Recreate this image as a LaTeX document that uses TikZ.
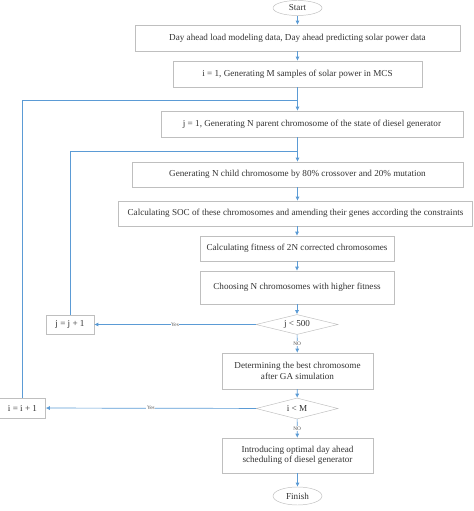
\documentclass[tikz,border=0pt]{standalone}
\usepackage{fontspec}
\setmainfont{Liberation Serif}
\usetikzlibrary{shapes.geometric,arrows.meta}
\definecolor{flowblue}{RGB}{91,155,213}
\tikzset{
  box/.style={draw=black!25,fill=white,text=black!80,font=\fontsize{7.8}{9}\selectfont,align=center,inner sep=1pt},
  test/.style={diamond,draw=black!25,fill=white,text=black!80,font=\fontsize{7.8}{9}\selectfont,aspect=4,inner sep=0pt},
  term/.style={ellipse,draw=black!25,fill=white,text=black!80,font=\fontsize{7.8}{9}\selectfont,inner sep=0pt},
  flow/.style={draw=flowblue,line width=0.6pt,-{Latex[length=3.5pt,width=3.5pt]}},
  tag/.style={fill=white,text=black!70,font=\fontsize{4.5}{5}\selectfont,inner sep=0.5pt}
}
\begin{document}
\begin{tikzpicture}[x=0.03cm,y=-0.03cm]
\useasboundingbox (0,0) rectangle (473,511);
% main column
\node[term,minimum width=1.47cm,minimum height=0.45cm] (start) at(297.5,8) {Start};
\node[box,minimum width=9.75cm,minimum height=0.78cm] (load) at(297.5,38) {Day ahead load modeling data, Day ahead predicting solar power data};
\node[box,minimum width=7.47cm,minimum height=0.78cm] (mcs) at(297.5,74) {i = 1, Generating M samples of solar power in MCS};
\node[box,minimum width=9.06cm,minimum height=0.78cm] (parent) at(312,124) {j = 1, Generating N parent chromosome of the state of diesel generator};
\node[box,minimum width=9.93cm,minimum height=0.75cm] (child) at(297.5,174.5) {Generating N child chromosome by 80\% crossover and 20\% mutation};
\node[box,minimum width=10.62cm,minimum height=0.75cm] (soc) at(295.5,213.5) {Calculating SOC of these chromosomes and amending their genes according the constraints};
\node[box,minimum width=5.82cm,minimum height=0.75cm] (fit) at(297,248.5) {Calculating fitness of 2N corrected chromosomes};
\node[box,minimum width=5.82cm,minimum height=0.99cm] (choose) at(297,287.5) {Choosing N chromosomes with higher fitness};
\node[test,minimum width=2.46cm,minimum height=0.6cm] (jtest) at(297,324.5) {j {\textless} 500};
\node[box,minimum width=4.53cm,minimum height=1.08cm] (best) at(297.5,371) {Determining the best chromosome\\after GA simulation};
\node[test,minimum width=2.46cm,minimum height=0.63cm] (itest) at(297,408.5) {i {\textless} M};
\node[box,minimum width=4.53cm,minimum height=1.05cm] (sched) at(297.5,455.5) {Introducing optimal day ahead\\scheduling of diesel generator};
\node[term,minimum width=1.47cm,minimum height=0.54cm] (finish) at(297.5,496) {Finish};
% counters
\node[box,minimum width=1.44cm,minimum height=0.57cm] (jinc) at(70,324.5) {j = j + 1};
\node[box,minimum width=1.38cm,minimum height=0.6cm] (iinc) at(22.5,408) {i = i + 1};
\coordinate (jjoin) at(297.5,151);
\coordinate (ijoin) at(297.5,100);
% arrows
\draw[flow] (start) -- (load);
\draw[flow] (load) -- (mcs);
\draw[flow] (mcs) -- (mcs.south |- parent.north);
\draw[flow] (mcs.south |- parent.south) -- (child);
\draw[flow] (child) -- (child.south |- soc.north);
\draw[flow] (soc.south -| fit.north) -- (fit);
\draw[flow] (fit) -- (choose);
\draw[flow] (choose) -- (jtest);
\draw[flow] (jtest) -- node[tag] {NO} (best);
\draw[flow] (best) -- (itest);
\draw[flow] (itest) -- node[tag] {NO} (sched);
\draw[flow] (sched) -- (finish);
\draw[flow] (jtest) -- node[tag] {Yes} (jinc);
\draw[flow] (itest) -- node[tag] {Yes} (iinc);
\draw[draw=flowblue,line width=0.6pt] (jinc) |- (jjoin);
\draw[draw=flowblue,line width=0.6pt] (iinc) |- (ijoin);
\end{tikzpicture}
\end{document}
